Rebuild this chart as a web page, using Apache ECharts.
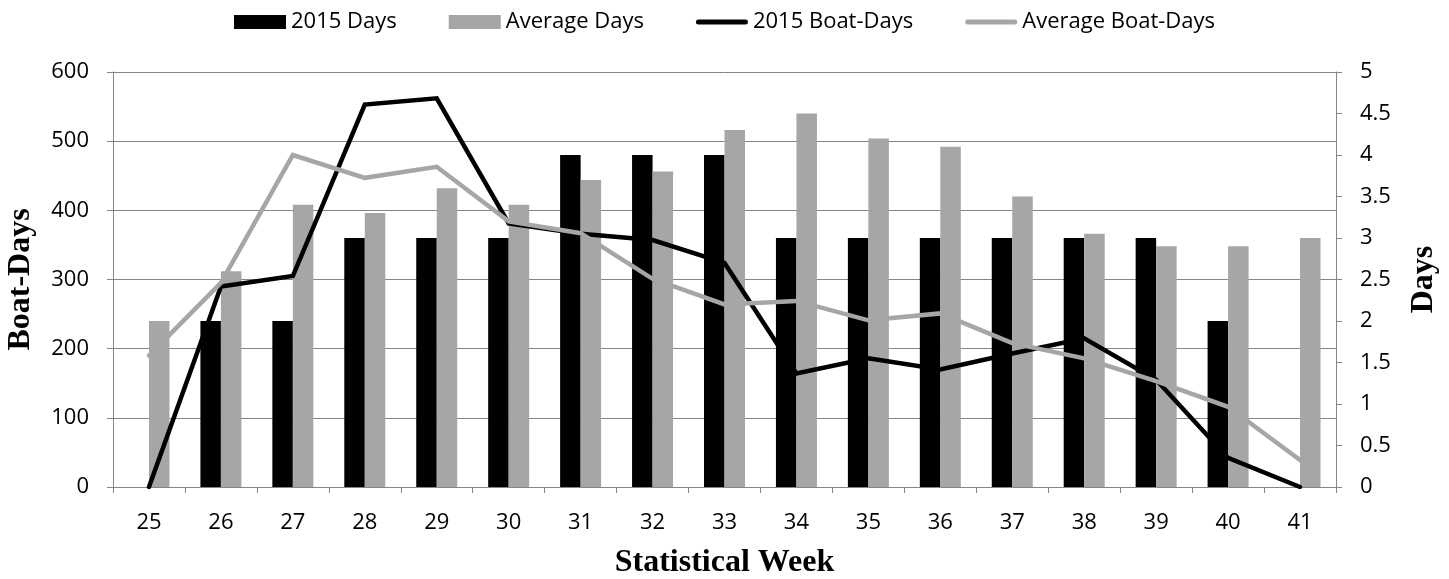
<!DOCTYPE html>
<html>
<head>
<meta charset="utf-8">
<script src="https://cdn.jsdelivr.net/npm/echarts@6/dist/echarts.min.js"></script>
<style>
html,body{margin:0;padding:0;background:#fff;}
#chart{width:1449px;height:579px;}
</style>
</head>
<body>
<div id="chart"></div>
<script>
const weeks = ['25','26','27','28','29','30','31','32','33','34','35','36','37','38','39','40','41'];
const days2015 = [0, 2, 2, 3, 3, 3, 4, 4, 4, 3, 3, 3, 3, 3, 3, 2, 0];
const daysAverage = [2.0, 2.6, 3.4, 3.3, 3.6, 3.4, 3.7, 3.8, 4.3, 4.5, 4.2, 4.1, 3.5, 3.05, 2.9, 2.9, 3.0];
const boatDays2015 = [0, 290, 305, 553, 562, 381, 366, 357, 324, 164, 186, 170, 193, 215, 155, 42, 0];
const boatDaysAverage = [190, 295, 480, 447, 463, 384, 367, 301, 264, 269, 241, 251, 208, 186, 153, 116, 39];

const BLACK = '#000000';
const GRAY = '#a6a6a6';
const AXIS = '#868686';
const tickFont = {fontFamily: 'Open Sans', fontSize: 22, color: '#000'};
const titleFont = {fontFamily: 'Liberation Serif', fontSize: 32, fontWeight: 'bold', color: '#000'};
const lineIcon = 'path://M2.5,0 H49.5 A2.5,2.5 0 0 1 49.5,5 H2.5 A2.5,2.5 0 0 1 2.5,0 Z';

const chart = echarts.init(document.getElementById('chart'), null, {renderer: 'canvas'});
chart.setOption({
  animation: false,
  backgroundColor: '#ffffff',
  legend: {
    top: 6,
    left: 'center',
    itemWidth: 52,
    itemHeight: 14,
    itemGap: 52,
    textStyle: {fontFamily: 'Open Sans', fontSize: 22, color: '#000'},
    data: [
      {name: '2015 Days', icon: 'rect'},
      {name: 'Average Days', icon: 'rect'},
      {name: '2015 Boat-Days', icon: lineIcon},
      {name: 'Average Boat-Days', icon: lineIcon}
    ]
  },
  grid: {left: 113, right: 113, top: 72, bottom: 92, containLabel: false, outerBoundsMode: 'none'},
  xAxis: {
    type: 'category',
    data: weeks,
    name: 'Statistical Week',
    nameLocation: 'middle',
    nameGap: 60,
    nameTextStyle: titleFont,
    axisLine: {lineStyle: {color: AXIS, width: 1}},
    axisTick: {show: true, length: 6, lineStyle: {color: AXIS}},
    axisLabel: Object.assign({margin: 25}, tickFont),
    splitLine: {show: false}
  },
  yAxis: [
    {
      type: 'value',
      min: 0, max: 600, interval: 100,
      name: 'Boat-Days',
      nameLocation: 'middle',
      nameRotate: 90,
      nameGap: 76,
      nameTextStyle: titleFont,
      axisLine: {show: true, lineStyle: {color: AXIS, width: 1}},
      axisTick: {show: true, length: 6, lineStyle: {color: AXIS}},
      axisLabel: Object.assign({margin: 24}, tickFont),
      splitLine: {show: true, lineStyle: {color: AXIS, width: 1}}
    },
    {
      type: 'value',
      min: 0, max: 5, interval: 0.5,
      name: 'Days',
      nameLocation: 'middle',
      nameRotate: 90,
      nameGap: 72,
      nameTextStyle: titleFont,
      position: 'right',
      axisLine: {show: true, lineStyle: {color: AXIS, width: 1}},
      axisTick: {show: true, length: 6, lineStyle: {color: AXIS}},
      axisLabel: Object.assign({margin: 24}, tickFont),
      splitLine: {show: false}
    }
  ],
  series: [
    {
      name: '2015 Days', type: 'bar', yAxisIndex: 1, data: days2015,
      barWidth: 20.5, barGap: '0%', itemStyle: {color: BLACK}, z: 2
    },
    {
      name: 'Average Days', type: 'bar', yAxisIndex: 1, data: daysAverage,
      barWidth: 20.5, barGap: '0%', itemStyle: {color: GRAY}, z: 2
    },
    {
      name: '2015 Boat-Days', type: 'line', yAxisIndex: 0, data: boatDays2015,
      symbol: 'none', lineStyle: {color: BLACK, width: 4.5, cap: 'round', join: 'miter'},
      itemStyle: {color: BLACK}, z: 3
    },
    {
      name: 'Average Boat-Days', type: 'line', yAxisIndex: 0, data: boatDaysAverage,
      symbol: 'none', lineStyle: {color: GRAY, width: 4.5, cap: 'round', join: 'miter'},
      itemStyle: {color: GRAY}, z: 3
    }
  ]
});
</script>
</body>
</html>
